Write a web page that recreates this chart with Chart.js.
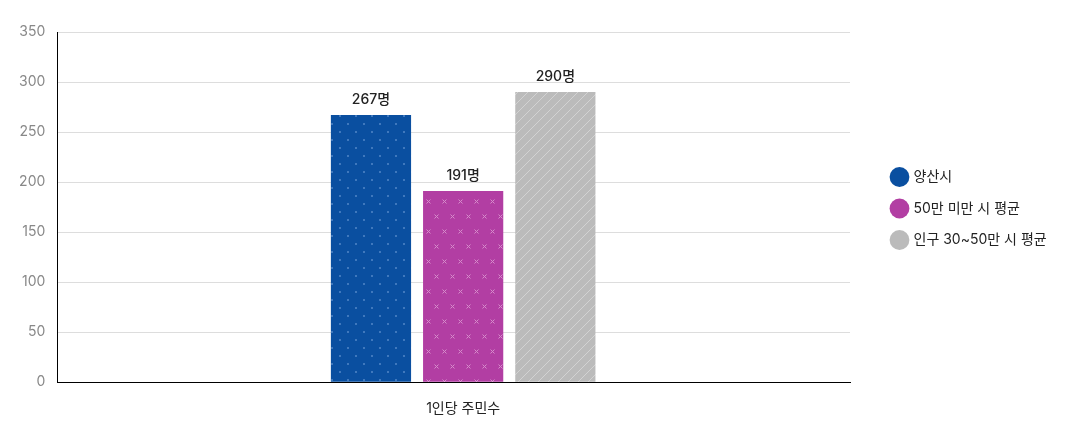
<!DOCTYPE html>
<html>
<head>
<meta charset="utf-8">
<script src="https://cdn.jsdelivr.net/npm/chart.js@4"></script>
<style>
  html, body { margin: 0; padding: 0; background: #fff; }
  #wrap { width: 1070px; height: 439px; }
</style>
</head>
<body>
<div id="wrap"><canvas id="barChart"></canvas></div>
<script>
const categories = ['1인당 주민수'];
const seriesNames = ['양산시', '50만 미만 시 평균', '인구 30~50만 시 평균'];
const yangsan = [267];
const under50 = [191];
const pop30to50 = [290];
const yTicks = [0, 50, 100, 150, 200, 250, 300, 350];

const FONT = 'Inter, "Noto Sans CJK KR", sans-serif';

// patterned fills for the bars
function dotPattern(bg, fg) {
  const c = document.createElement('canvas');
  c.width = 16; c.height = 16;
  const g = c.getContext('2d');
  g.fillStyle = bg; g.fillRect(0, 0, 16, 16);
  g.fillStyle = fg;
  g.fillRect(3, 3, 2, 2);
  g.fillRect(11, 11, 2, 2);
  return g.createPattern(c, 'repeat');
}

function crossPattern(bg, fg) {
  const c = document.createElement('canvas');
  c.width = 16; c.height = 30;
  const g = c.getContext('2d');
  g.fillStyle = bg; g.fillRect(0, 0, 16, 30);
  g.strokeStyle = fg; g.lineWidth = 1;
  [[4.5, 6.5], [12.5, 21.5]].forEach(([x, y]) => {
    g.beginPath();
    g.moveTo(x - 2, y - 2); g.lineTo(x + 2, y + 2);
    g.moveTo(x + 2, y - 2); g.lineTo(x - 2, y + 2);
    g.stroke();
  });
  return g.createPattern(c, 'repeat');
}

function stripePattern(bg, fg) {
  const c = document.createElement('canvas');
  c.width = 10; c.height = 10;
  const g = c.getContext('2d');
  g.fillStyle = bg; g.fillRect(0, 0, 10, 10);
  g.strokeStyle = fg; g.lineWidth = 1;
  g.beginPath();
  g.moveTo(0, 10); g.lineTo(10, 0);
  g.moveTo(-2, 2); g.lineTo(2, -2);
  g.moveTo(8, 12); g.lineTo(12, 8);
  g.stroke();
  return g.createPattern(c, 'repeat');
}

const solid = ['#0a4fa0', '#b23ea3', '#bbbbbb'];
const fills = [
  dotPattern('#0a4fa0', '#3f78bd'),
  crossPattern('#b23ea3', '#d68ccb'),
  stripePattern('#bbbbbb', '#d2d2d2')
];

const valueLabels = {
  id: 'valueLabels',
  afterDatasetsDraw(chart) {
    const ctx = chart.ctx;
    ctx.save();
    ctx.font = '500 14px ' + FONT;
    ctx.fillStyle = '#222';
    ctx.textAlign = 'center';
    ctx.textBaseline = 'bottom';
    chart.data.datasets.forEach((ds, i) => {
      chart.getDatasetMeta(i).data.forEach((bar, j) => {
        ctx.fillText(ds.data[j] + '명', bar.x, bar.y - 8);
      });
    });
    ctx.restore();
  }
};

// fixed legend column, legend pushed right/up, category centre nudged right
const layoutTweak = {
  id: 'layoutTweak',
  beforeInit(chart) {
    const legend = chart.legend;
    const fit = legend.fit;
    legend.fit = function () {
      fit.call(this);
      if (!this.isHorizontal()) this.width = 220;
    };
  },
  afterLayout(chart) {
    const lg = chart.legend;
    lg.left += 25;
    lg.top -= 25;
    lg.bottom -= 25;
    chart.scales.x._length += 19;
  }
};

new Chart(document.getElementById('barChart'), {
  type: 'bar',
  data: {
    labels: categories,
    datasets: [
      { label: seriesNames[0], data: yangsan, backgroundColor: fills[0] },
      { label: seriesNames[1], data: under50, backgroundColor: fills[1] },
      { label: seriesNames[2], data: pop30to50, backgroundColor: fills[2] }
    ]
  },
  options: {
    responsive: true,
    maintainAspectRatio: false,
    animation: false,
    categoryPercentage: 0.3407,
    barPercentage: 0.87,
    layout: { padding: { top: 32, right: 0, bottom: 4, left: 7 } },
    plugins: {
      legend: {
        position: 'right',
        labels: {
          usePointStyle: true,
          pointStyle: 'circle',
          boxWidth: 16,
          boxHeight: 16,
          padding: 17.5,
          color: '#222',
          font: { family: FONT, size: 14 },
          generateLabels(chart) {
            return chart.data.datasets.map((ds, i) => ({
              text: ds.label,
              fillStyle: solid[i],
              strokeStyle: solid[i],
              lineWidth: 0,
              pointStyle: 'circle',
              datasetIndex: i,
              fontColor: '#222'
            }));
          }
        }
      },
      tooltip: { enabled: false }
    },
    scales: {
      x: {
        grid: { display: false, drawTicks: false },
        border: { color: '#000', width: 1 },
        ticks: { color: '#222', font: { family: FONT, size: 14 }, padding: 18 }
      },
      y: {
        min: 0,
        max: 350,
        afterBuildTicks(scale) { scale.ticks = yTicks.map(v => ({ value: v })); },
        grid: { color: '#dddddd', drawTicks: false },
        border: { color: '#000', width: 1 },
        ticks: { color: '#888', font: { family: FONT, size: 14 }, padding: 12 }
      }
    }
  },
  plugins: [layoutTweak, valueLabels]
});
</script>
</body>
</html>
